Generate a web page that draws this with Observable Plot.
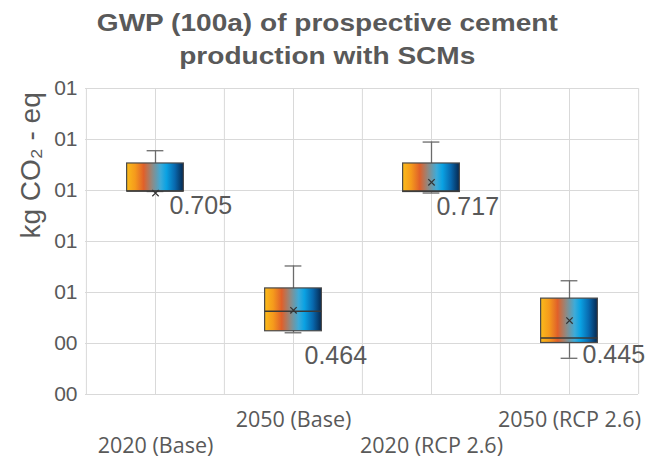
<!DOCTYPE html>
<html>
<head>
<meta charset="utf-8">
<script src="https://cdn.jsdelivr.net/npm/d3@7"></script>
<script src="https://cdn.jsdelivr.net/npm/@observablehq/plot@0.6"></script>
<style>
  html, body { margin: 0; padding: 0; background: #ffffff; }
  #wrap { width: 655px; height: 460px; overflow: hidden; }
  #title {
    box-sizing: border-box; height: 72px; padding-top: 6px;
    font-family: "Liberation Sans", Arial, sans-serif; font-weight: bold;
    font-size: 24.5px; line-height: 33px; color: #595959; text-align: center;
  }
  #title span { display: inline-block; transform: scaleX(1.145); transform-origin: center; }
</style>
</head>
<body>
<div id="wrap">
  <div id="title"><span>GWP (100a) of prospective cement<br>production with SCMs</span></div>
  <div id="chart"></div>
</div>
<script>
const categories = ["2020 (Base)", "2050 (Base)", "2020 (RCP 2.6)", "2050 (RCP 2.6)"];
const whiskerLow  = [0.698, 0.421, 0.695, 0.371];
const q1          = [0.698, 0.424, 0.697, 0.401];
const median      = [0.699, 0.463, 0.699, 0.411];
const q3          = [0.753, 0.508, 0.753, 0.488];
const whiskerHigh = [0.778, 0.552, 0.795, 0.523];
const meanVals    = [0.695, 0.465, 0.716, 0.445];
const meanLabels  = ["0.705", "0.464", "0.717", "0.445"];
const labelY      = [0.670, 0.376, 0.668, 0.378];
const yTicks      = [0.3, 0.4, 0.5, 0.6, 0.7, 0.8, 0.9];
const yTickLabels = ["00", "00", "01", "01", "01", "01", "01"];
const yLabel      = "kg CO₂ - eq";

const rows = categories.map((c, i) => ({
  cat: c, lo: whiskerLow[i], q1: q1[i], med: median[i], q3: q3[i],
  hi: whiskerHigh[i], mean: meanVals[i], label: meanLabels[i], ly: labelY[i], i
}));

const W = 655, ML = 85, MR = 17;
const bw = (W - ML - MR) / categories.length;
const boxW = 57, capW = 17;
const boxInset = (bw - boxW) / 2, capInset = (bw - capW) / 2;
const grid = "#d9d9d9", txt = "#595959";
const labelDx = [14, 11, 5, 13];

const chart = Plot.plot({
  width: W, height: 388,
  marginLeft: ML, marginRight: MR, marginTop: 16, marginBottom: 66,
  style: { fontFamily: "'Liberation Sans', Arial, sans-serif", color: txt, background: "#fff" },
  x: { type: "band", domain: categories, padding: 0 },
  y: { domain: [0.3, 0.9] },
  marks: [
    Plot.ruleY(yTicks, { stroke: grid, strokeWidth: 1 }),
    Plot.ruleX(categories, { stroke: grid, strokeWidth: 1 }),
    Plot.ruleX(categories, { stroke: grid, strokeWidth: 1, dx: -bw / 2 }),
    Plot.ruleX(categories.slice(-1), { stroke: grid, strokeWidth: 1, dx: bw / 2 }),
    Plot.axisY({ ticks: yTicks, tickFormat: d => yTickLabels[yTicks.indexOf(d)], tickSize: 0, tickPadding: 8, fontSize: 21, label: null, fill: txt }),
    Plot.axisX({ ticks: [categories[1], categories[3]], tickSize: 0, tickPadding: 17, fontSize: 21.5, fontFamily: "'Open Sans', sans-serif", label: null, fill: txt }),
    Plot.axisX({ ticks: [categories[0], categories[2]], tickSize: 0, tickPadding: 43, fontSize: 21.5, fontFamily: "'Open Sans', sans-serif", label: null, fill: txt }),
    Plot.text([yLabel], { frameAnchor: "left", rotate: -90, dx: -54, dy: -3, fontSize: 28, fill: txt }),
    Plot.ruleX(rows, { x: "cat", y1: "lo", y2: "hi", stroke: "#6b6b6b", strokeWidth: 1.3 }),
    Plot.tickY(rows, { x: "cat", y: "hi", stroke: "#6b6b6b", strokeWidth: 1.3, insetLeft: capInset, insetRight: capInset }),
    Plot.tickY(rows, { x: "cat", y: "lo", stroke: "#6b6b6b", strokeWidth: 1.3, insetLeft: capInset, insetRight: capInset }),
    Plot.rect(rows, { x: "cat", y1: "q1", y2: "q3", fill: "url(#boxgrad)", stroke: "#4a4a4a", strokeWidth: 1.2, insetLeft: boxInset, insetRight: boxInset }),
    Plot.tickY(rows, { x: "cat", y: "med", stroke: "#3a3a3a", strokeWidth: 1.5, insetLeft: boxInset, insetRight: boxInset }),
    Plot.dot(rows, { x: "cat", y: "mean", symbol: "times", r: 3, stroke: "#333", strokeWidth: 1.2 }),
    ...rows.map(r => Plot.text([r], { x: "cat", y: "ly", text: "label", textAnchor: "start", dx: labelDx[r.i], fontSize: 25, fill: txt }))
  ]
});

const ns = "http://www.w3.org/2000/svg";
const defs = document.createElementNS(ns, "defs");
const lg = document.createElementNS(ns, "linearGradient");
lg.setAttribute("id", "boxgrad");
lg.setAttribute("x1", "0"); lg.setAttribute("x2", "1"); lg.setAttribute("y1", "0"); lg.setAttribute("y2", "0");
[["0%", "#fbbb1a"], ["15%", "#f59a1c"], ["30%", "#e0602a"], ["45%", "#8f8a84"],
 ["60%", "#3dabd9"], ["70%", "#0aa2e3"], ["85%", "#0868ae"], ["100%", "#06284f"]].forEach(([o, c]) => {
  const s = document.createElementNS(ns, "stop");
  s.setAttribute("offset", o); s.setAttribute("stop-color", c);
  lg.appendChild(s);
});
defs.appendChild(lg);
chart.insertBefore(defs, chart.firstChild);
document.getElementById("chart").appendChild(chart);
</script>
</body>
</html>
